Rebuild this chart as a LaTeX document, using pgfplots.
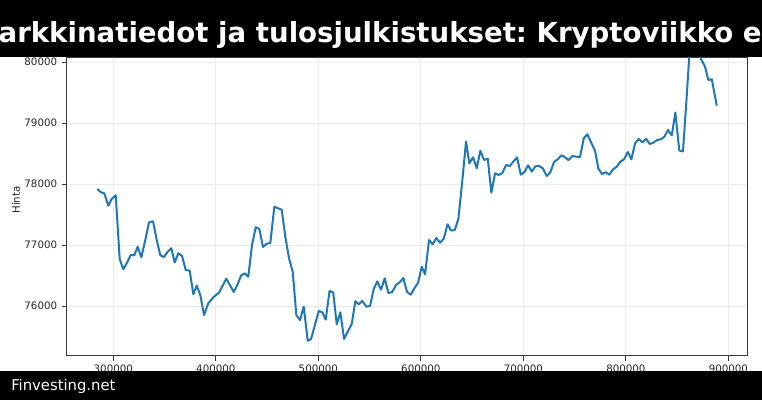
\documentclass[border=0pt]{standalone}
\usepackage{pgfplots}
\pgfplotsset{compat=1.18}
\usepackage{fontspec}
\setmainfont{DejaVu Sans}

\definecolor{mplblue}{HTML}{1F77B4}
\definecolor{gridgray}{HTML}{EBEBEB}
\definecolor{spine}{HTML}{3A3A3A}

\pgfplotstableread{
x y
284390 77918
288000 77864
291220 77847
295122 77644
298439 77754
302341 77815
306244 76770
309756 76602
313073 76700
316975 76836
320488 76831
323805 76972
327317 76798
331219 77082
334829 77372
338731 77388
342341 77082
345853 76831
349463 76803
353073 76890
356585 76946
359902 76716
363414 76864
367024 76820
370633 76590
374536 76579
378048 76192
381365 76333
384877 76180
388487 75852
392682 76044
397560 76143
403121 76218
410243 76448
417462 76230
420974 76344
424584 76497
428194 76536
431706 76480
435316 77000
438925 77290
442438 77262
446047 76967
449657 77021
453169 77033
457072 77628
460681 77602
464291 77579
467803 77136
471413 76782
475023 76562
478535 75852
482145 75766
485754 75989
489657 75431
492876 75459
496486 75677
500388 75918
503900 75897
507217 75775
510925 76246
514534 76221
517949 75700
521461 75897
525071 75459
528681 75579
532583 75705
536095 76077
539412 76028
542924 76082
546827 75989
550437 76000
554046 76279
557558 76405
561168 76267
564778 76454
568290 76213
571900 76225
575802 76344
579412 76389
582924 76459
586534 76230
590143 76185
593656 76290
597265 76377
600875 76644
604095 76520
607997 77082
611607 77011
615119 77115
618729 77038
622338 77103
626046 77339
629460 77238
633070 77243
636582 77426
640192 78011
644094 78693
647314 78339
650923 78438
654533 78257
658045 78546
661655 78393
665265 78415
668777 77857
672387 78175
675996 78147
679508 78180
683118 78311
686728 78295
690240 78366
693850 78438
697459 78152
700972 78192
704581 78307
708191 78202
711703 78290
715313 78295
718923 78257
722825 78131
726337 78192
729947 78361
733557 78405
737069 78470
740679 78438
744093 78390
747800 78459
751703 78447
755313 78443
758922 78749
762434 78815
766044 78684
769947 78546
773166 78251
776776 78164
780385 78192
783898 78152
787507 78241
791117 78284
794629 78366
798239 78405
801849 78525
805361 78405
808971 78667
812580 78738
816092 78684
819702 78738
823312 78656
826824 78677
830434 78721
834043 78733
837556 78775
841165 78885
844775 78798
848287 79172
852092 78549
855702 78533
859116 79377
862726 80328
866336 80443
870043 80229
873555 80041
877263 79923
880482 79705
883799 79716
888677 79284
}\prices

\begin{document}
\begin{tikzpicture}[x=0.75pt,y=0.75pt]
\useasboundingbox (0,0) rectangle (762,400);
\fill[white] (0,0) rectangle (762,400);
\begin{scope}
\clip (0,0) rectangle (762,400);
\begin{axis}[
    at={(50.025pt,33.225pt)}, anchor=south west,
    scale only axis,
    width=510.5pt, height=223.9pt,
    xmin=254537, xmax=918537,
    ymin=75185, ymax=80079,
    xtick={300000,400000,500000,600000,700000,800000,900000},
    ytick={76000,77000,78000,79000,80000},
    scaled x ticks=false, scaled y ticks=false,
    xtick pos=bottom, ytick pos=left,
    tick align=outside,
    major tick length=3.65pt,
    tick style={spine, line width=0.6pt},
    axis line style={spine, line width=0.6pt},
    grid=major,
    major grid style={gridgray, line width=0.6pt},
    ticklabel style={font=\fontsize{7.7}{9}\selectfont, text=black!85},
    /pgf/number format/.cd, fixed, precision=0, 1000 sep={}, assume math mode=true,
    /pgfplots/.cd,
    ylabel={Hinta},
    ylabel style={at={(axis description cs:-0.0744,0.5216)}, anchor=center,
        font=\fontsize{7.7}{9}\selectfont, text=black!85},
]
\addplot[mplblue, line width=1.5pt, line join=round] table[x=x, y=y] {\prices};
\end{axis}

% title bar and footer bar laid over the chart
\fill[black] (0,343.3) rectangle (762,400);
\node[anchor=base west, inner sep=0, text=white,
      font=\fontsize{20.7}{25}\selectfont\bfseries]
  at (-29.1,357.3) {\frenchspacing Markkinatiedot ja tulosjulkistukset: Kryptoviikko edessä};
\fill[black] (0,0) rectangle (762,29);
\node[anchor=base west, inner sep=0, text=white,
      font=\fontsize{11.1}{13}\selectfont]
  at (11,10) {Finvesting.net};
\end{scope}
\end{tikzpicture}
\end{document}
